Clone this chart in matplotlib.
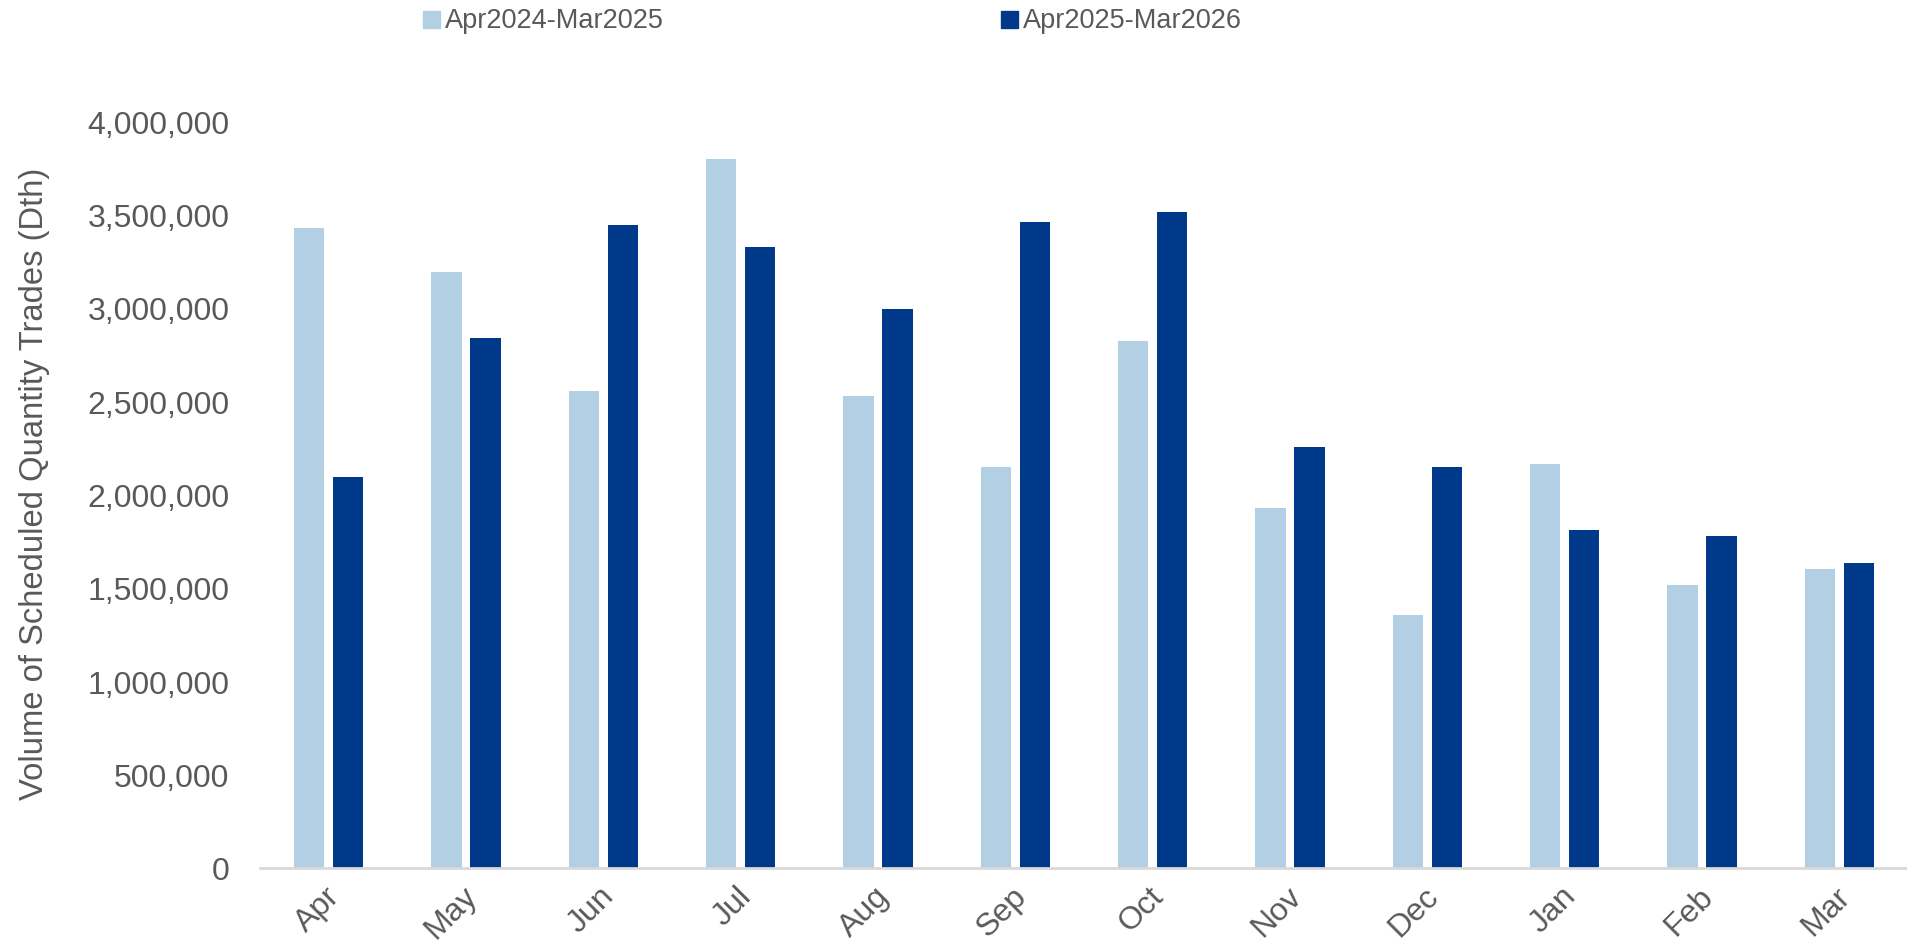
import matplotlib
matplotlib.use("Agg")
import matplotlib.pyplot as plt
import matplotlib.transforms as mtransforms
from matplotlib import font_manager
import numpy as np
from matplotlib.ticker import FuncFormatter
from matplotlib.patches import Rectangle

months = ["Apr", "May", "Jun", "Jul", "Aug", "Sep", "Oct", "Nov", "Dec", "Jan", "Feb", "Mar"]
series_names = ["Apr2024-Mar2025", "Apr2025-Mar2026"]
vol_2024_25 = [3429000, 3191000, 2553000, 3798000, 2528000, 2148000, 2820000,
               1926000, 1356000, 2162000, 1513000, 1599000]
vol_2025_26 = [2092000, 2839000, 3441000, 3327000, 2995000, 3461000, 3512000,
               2254000, 2149000, 1810000, 1778000, 1635000]
yticks = [0, 500000, 1000000, 1500000, 2000000, 2500000, 3000000, 3500000, 4000000]

LIGHT = "#B3CFE4"
DARK = "#00398A"
GREY = "#595959"

plt.rcParams["font.family"] = ["Liberation Sans", "DejaVu Sans"]

# condensed font for the legend if available
try:
    font_manager.findfont(font_manager.FontProperties(family="Liberation Sans Narrow"),
                          fallback_to_default=False)
    legend_family = ["Liberation Sans Narrow", "Liberation Sans"]
    legend_size = 22.5
except Exception:
    legend_family = ["Liberation Sans", "DejaVu Sans"]
    legend_size = 19.5

W, H = 1908, 953
fig = plt.figure(figsize=(W / 100, H / 100), dpi=100)
ax = fig.add_axes([260 / W, 84 / H, 1 - 260 / W, (869 - 122) / H])

x = np.arange(len(months))
w = 0.221
off = 0.142
ax.bar(x - off, vol_2024_25, width=w, color=LIGHT, label=series_names[0])
ax.bar(x + off, vol_2025_26, width=w, color=DARK, label=series_names[1])

ax.set_xlim(-0.5, len(months) - 0.5)
ax.set_ylim(0, 4000000)
ax.set_yticks(yticks)
ax.yaxis.set_major_formatter(FuncFormatter(lambda v, p: f"{int(v):,}"))
ax.tick_params(axis="y", length=0, pad=22, labelsize=23, labelcolor=GREY)
ax.set_xticks(x)
ax.set_xticklabels(months, rotation=45, ha="right", va="top", rotation_mode="anchor")
ax.tick_params(axis="x", length=0, pad=9, labelsize=23, labelcolor=GREY)
shift = mtransforms.ScaledTranslation(-4 / 100, 0, fig.dpi_scale_trans)
for lab in ax.get_xticklabels():
    lab.set_transform(lab.get_transform() + shift)

for s in ["top", "right", "left"]:
    ax.spines[s].set_visible(False)
ax.spines["bottom"].set_color("#D9D9D9")
ax.spines["bottom"].set_linewidth(2)

ax.set_ylabel("Volume of Scheduled Quantity Trades (Dth)", fontsize=23.6, color=GREY)
ax.yaxis.set_label_coords(-(260 - 50) / (W - 260), 0.515)

# legend drawn manually at the top
sq = 17
for (xs, xt), name, col in zip([(423, 445), (1001, 1023)], series_names, [LIGHT, DARK]):
    fig.patches.append(Rectangle((xs / W, (H - 29) / H), sq / W, sq / H,
                                 transform=fig.transFigure, color=col))
    fig.text(xt / W, (H - 21) / H, name, ha="left", va="center", color=GREY,
             fontsize=legend_size, family=legend_family)

fig.savefig("out.png", dpi=100)
